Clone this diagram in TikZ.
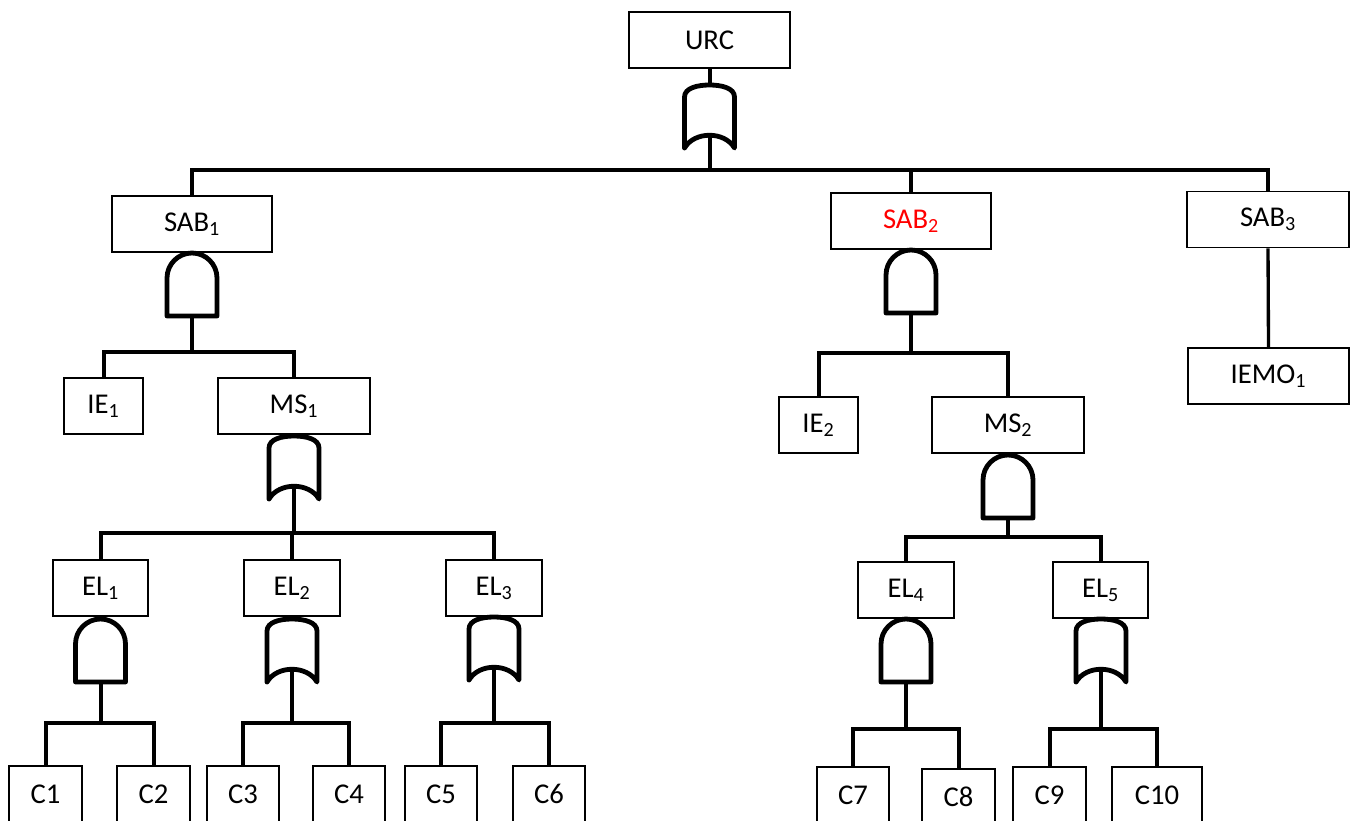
\documentclass[tikz,border=0pt]{standalone}
\usepackage{fontspec}
\setmainfont{Carlito}
\begin{document}
\begin{tikzpicture}[x=0.75pt,y=-0.75pt,
 bx/.style={draw, line width=1.4pt, minimum height=42pt, inner sep=0pt, font=\fontsize{21.5}{25}\selectfont},
 bw/.style={minimum width=#1*0.75pt},
 conn/.style={line width=3pt},
 gateline/.style={line width=3.6pt, line join=round, line cap=round},
 andgate/.pic={
   \draw[gateline] (-25,63) -- (-25,25) .. controls (-25,11.2) and (-13.8,0) .. (0,0)
     .. controls (13.8,0) and (25,11.2) .. (25,25) -- (25,63) -- cycle;
   \coordinate (-in) at (0,0); \coordinate (-out) at (0,63);},
 orgate/.pic={
   \draw[gateline] (-25,63) -- (-25,12) .. controls (-25,3) and (-12,0) .. (0,0)
     .. controls (12,0) and (25,3) .. (25,12) -- (25,63)
     .. controls (15,46) and (-15,46) .. (-25,63);
   \coordinate (-in) at (0,0); \coordinate (-out) at (0,50);}
]
\useasboundingbox (0,0) rectangle (1351,820);

% boxes
\node[bx,bw=161] (URC) at (709.5,40) {URC};
\node[bx,bw=160] (SAB1) at (192,224) {SAB\textsubscript{1}};
\node[bx,bw=160,text=red] (SAB2) at (911,221) {SAB\textsubscript{2}};
\node[bx,bw=162] (SAB3) at (1268,219.5) {SAB\textsubscript{3}};
\node[bx,bw=161] (IEMO1) at (1268.5,376) {IEMO\textsubscript{1}};
\node[bx,bw=79] (IE1) at (103.5,406) {IE\textsubscript{1}};
\node[bx,bw=152] (MS1) at (294,406) {MS\textsubscript{1}};
\node[bx,bw=79] (IE2) at (818.5,425) {IE\textsubscript{2}};
\node[bx,bw=152] (MS2) at (1008,425) {MS\textsubscript{2}};
\node[bx,bw=95] (EL1) at (100.5,588) {EL\textsubscript{1}};
\node[bx,bw=96] (EL2) at (292,588) {EL\textsubscript{2}};
\node[bx,bw=96] (EL3) at (494,588) {EL\textsubscript{3}};
\node[bx,bw=96] (EL4) at (906,590) {EL\textsubscript{4}};
\node[bx,bw=95] (EL5) at (1100.5,590) {EL\textsubscript{5}};
\node[bx,bw=73] (C1) at (45.5,794) {C1};
\node[bx,bw=73] (C2) at (153.5,794) {C2};
\node[bx,bw=72] (C3) at (243,794) {C3};
\node[bx,bw=72] (C4) at (349,794) {C4};
\node[bx,bw=72] (C5) at (441,794) {C5};
\node[bx,bw=72] (C6) at (549,794) {C6};
\node[bx,bw=72] (C7) at (853,795) {C7};
\node[bx,bw=73] (C8) at (958.5,797) {C8};
\node[bx,bw=73] (C9) at (1049.5,795) {C9};
\node[bx,bw=90] (C10) at (1157,795) {C10};

% gates
\pic (gU) at (709.5,85) {orgate};
\pic (gS1) at (192,253) {andgate};
\pic (gS2) at (911,250) {andgate};
\pic (gM1) at (294,436) {orgate};
\pic (gM2) at (1008,455) {andgate};
\pic (gE1) at (100.5,619) {andgate};
\pic (gE2) at (292,619) {orgate};
\pic (gE3) at (494,617) {orgate};
\pic (gE4) at (906,619) {andgate};
\pic (gE5) at (1101,619) {orgate};

% bar coordinates
\coordinate (bU) at (709.5,170);
\coordinate (bS1) at (192,352);
\coordinate (bS2) at (911,353);
\coordinate (bM1) at (294,533);
\coordinate (bM2) at (1008,537);
\coordinate (bE1) at (100.5,723);
\coordinate (bE2) at (292,723);
\coordinate (bE3) at (494,723);
\coordinate (bE4) at (906,729);
\coordinate (bE5) at (1101,729);

% connectors
\draw[conn] (URC.south) -- (gU-in);
\draw[conn] (gU-out) -- (bU);
\draw[conn] (SAB1.north) |- (bU) -| (SAB3.north);
\draw[conn] (SAB2.north) -- (SAB2.north |- bU);

\draw[conn] (gS1-out) -- (bS1);
\draw[conn] (IE1.north) |- (bS1) -| (MS1.north);

\draw[conn] (gS2-out) -- (bS2);
\draw[conn] (IE2.north) |- (bS2) -| (MS2.north);

\draw[line width=2.5pt] (SAB3.south) -- (IEMO1.north);

\draw[conn] (gM1-out) -- (bM1);
\draw[conn] (EL1.north) |- (bM1) -| (EL3.north);
\draw[conn] (EL2.north) -- (EL2.north |- bM1);

\draw[conn] (gM2-out) -- (bM2);
\draw[conn] (EL4.north) |- (bM2) -| (EL5.north);

\draw[conn] (gE1-out) -- (bE1);
\draw[conn] (C1.north) |- (bE1) -| (C2.north);
\draw[conn] (gE2-out) -- (bE2);
\draw[conn] (C3.north) |- (bE2) -| (C4.north);
\draw[conn] (gE3-out) -- (bE3);
\draw[conn] (C5.north) |- (bE3) -| (C6.north);
\draw[conn] (gE4-out) -- (bE4);
\draw[conn] (C7.north) |- (bE4) -| (C8.north);
\draw[conn] (gE5-out) -- (bE5);
\draw[conn] (C9.north) |- (bE5) -| (C10.north);
\end{tikzpicture}
\end{document}
